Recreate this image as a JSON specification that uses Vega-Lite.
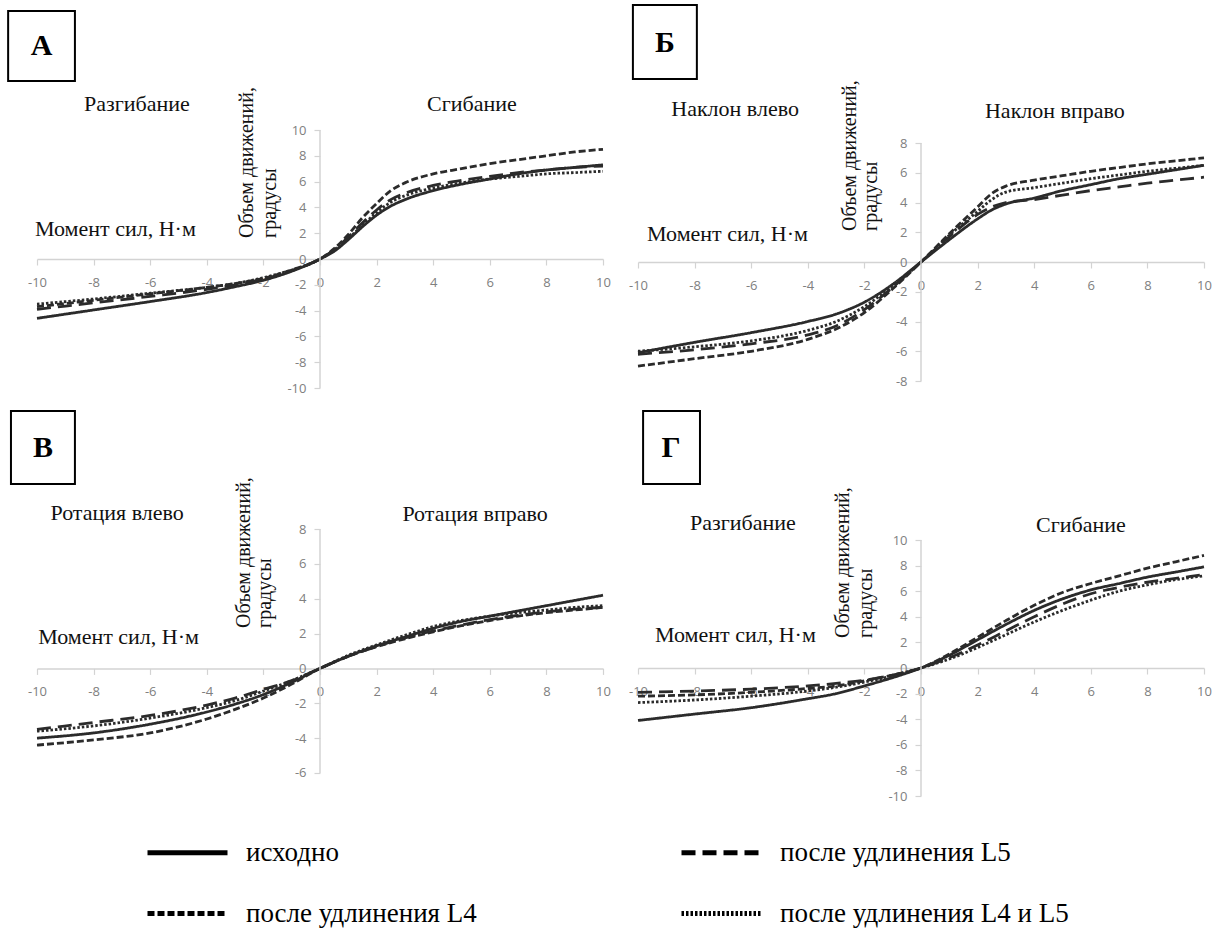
{
"$schema": "https://vega.github.io/schema/vega-lite/v6.json",
"background": "white",
"padding": {"left": 7, "top": 3, "right": 5, "bottom": 5},
"bounds": "flush",
"columns": 2,
"spacing": {"row": 141, "column": 35},
"config": {
  "view": {"stroke": null},
  "axis": {"labelFont": "Open Sans", "labelFontSize": 13, "labelColor": "#808080", "domainColor": "#d3d3d3", "tickColor": "#d3d3d3", "domainWidth": 1.5, "tickWidth": 1.2, "grid": false, "labelFlush": false, "labelOverlap": false, "labelBound": false, "tickSize": 6, "tickCount": 30},
  "text": {"font": "Liberation Serif", "fontSize": 22, "color": "#111111"}
},
"datasets": {
"curves": [
{"p":"A","s":"исходно","x":-10,"y":-4.6},{"p":"A","s":"исходно","x":-8,"y":-3.95},{"p":"A","s":"исходно","x":-6,"y":-3.3},{"p":"A","s":"исходно","x":-4,"y":-2.6},{"p":"A","s":"исходно","x":-3,"y":-2.15},{"p":"A","s":"исходно","x":-2,"y":-1.65},{"p":"A","s":"исходно","x":-1,"y":-0.95},{"p":"A","s":"исходно","x":0,"y":0},{"p":"A","s":"исходно","x":0.5,"y":0.6},{"p":"A","s":"исходно","x":1,"y":1.5},{"p":"A","s":"исходно","x":1.5,"y":2.5},{"p":"A","s":"исходно","x":2,"y":3.4},{"p":"A","s":"исходно","x":2.5,"y":4.1},{"p":"A","s":"исходно","x":3,"y":4.6},{"p":"A","s":"исходно","x":4,"y":5.3},{"p":"A","s":"исходно","x":5,"y":5.8},{"p":"A","s":"исходно","x":6,"y":6.2},{"p":"A","s":"исходно","x":7,"y":6.6},{"p":"A","s":"исходно","x":8,"y":6.9},{"p":"A","s":"исходно","x":9,"y":7.1},{"p":"A","s":"исходно","x":10,"y":7.3},
{"p":"A","s":"после удлинения L4","x":-10,"y":-3.7},{"p":"A","s":"после удлинения L4","x":-8,"y":-3.2},{"p":"A","s":"после удлинения L4","x":-6,"y":-2.7},{"p":"A","s":"после удлинения L4","x":-4,"y":-2.2},{"p":"A","s":"после удлинения L4","x":-3,"y":-1.9},{"p":"A","s":"после удлинения L4","x":-2,"y":-1.5},{"p":"A","s":"после удлинения L4","x":-1,"y":-0.85},{"p":"A","s":"после удлинения L4","x":0,"y":0},{"p":"A","s":"после удлинения L4","x":0.5,"y":0.8},{"p":"A","s":"после удлинения L4","x":1,"y":1.9},{"p":"A","s":"после удлинения L4","x":1.5,"y":3.2},{"p":"A","s":"после удлинения L4","x":2,"y":4.3},{"p":"A","s":"после удлинения L4","x":2.5,"y":5.3},{"p":"A","s":"после удлинения L4","x":3,"y":5.9},{"p":"A","s":"после удлинения L4","x":4,"y":6.6},{"p":"A","s":"после удлинения L4","x":5,"y":7.0},{"p":"A","s":"после удлинения L4","x":6,"y":7.4},{"p":"A","s":"после удлинения L4","x":7,"y":7.7},{"p":"A","s":"после удлинения L4","x":8,"y":8.0},{"p":"A","s":"после удлинения L4","x":9,"y":8.3},{"p":"A","s":"после удлинения L4","x":10,"y":8.5},
{"p":"A","s":"после удлинения L5","x":-10,"y":-3.9},{"p":"A","s":"после удлинения L5","x":-8,"y":-3.4},{"p":"A","s":"после удлинения L5","x":-6,"y":-2.9},{"p":"A","s":"после удлинения L5","x":-4,"y":-2.35},{"p":"A","s":"после удлинения L5","x":-3,"y":-2.0},{"p":"A","s":"после удлинения L5","x":-2,"y":-1.55},{"p":"A","s":"после удлинения L5","x":-1,"y":-0.9},{"p":"A","s":"после удлинения L5","x":0,"y":0},{"p":"A","s":"после удлинения L5","x":0.5,"y":0.7},{"p":"A","s":"после удлинения L5","x":1,"y":1.7},{"p":"A","s":"после удлинения L5","x":1.5,"y":2.8},{"p":"A","s":"после удлинения L5","x":2,"y":3.8},{"p":"A","s":"после удлинения L5","x":2.5,"y":4.6},{"p":"A","s":"после удлинения L5","x":3,"y":5.1},{"p":"A","s":"после удлинения L5","x":4,"y":5.7},{"p":"A","s":"после удлинения L5","x":5,"y":6.1},{"p":"A","s":"после удлинения L5","x":6,"y":6.4},{"p":"A","s":"после удлинения L5","x":7,"y":6.7},{"p":"A","s":"после удлинения L5","x":8,"y":6.9},{"p":"A","s":"после удлинения L5","x":9,"y":7.1},{"p":"A","s":"после удлинения L5","x":10,"y":7.2},
{"p":"A","s":"после удлинения L4 и L5","x":-10,"y":-3.5},{"p":"A","s":"после удлинения L4 и L5","x":-8,"y":-3.1},{"p":"A","s":"после удлинения L4 и L5","x":-6,"y":-2.65},{"p":"A","s":"после удлинения L4 и L5","x":-4,"y":-2.2},{"p":"A","s":"после удлинения L4 и L5","x":-3,"y":-1.9},{"p":"A","s":"после удлинения L4 и L5","x":-2,"y":-1.45},{"p":"A","s":"после удлинения L4 и L5","x":-1,"y":-0.85},{"p":"A","s":"после удлинения L4 и L5","x":0,"y":0},{"p":"A","s":"после удлинения L4 и L5","x":0.5,"y":0.7},{"p":"A","s":"после удлинения L4 и L5","x":1,"y":1.6},{"p":"A","s":"после удлинения L4 и L5","x":1.5,"y":2.6},{"p":"A","s":"после удлинения L4 и L5","x":2,"y":3.6},{"p":"A","s":"после удлинения L4 и L5","x":2.5,"y":4.4},{"p":"A","s":"после удлинения L4 и L5","x":3,"y":4.9},{"p":"A","s":"после удлинения L4 и L5","x":4,"y":5.5},{"p":"A","s":"после удлинения L4 и L5","x":5,"y":5.9},{"p":"A","s":"после удлинения L4 и L5","x":6,"y":6.2},{"p":"A","s":"после удлинения L4 и L5","x":7,"y":6.4},{"p":"A","s":"после удлинения L4 и L5","x":8,"y":6.6},{"p":"A","s":"после удлинения L4 и L5","x":9,"y":6.7},{"p":"A","s":"после удлинения L4 и L5","x":10,"y":6.8},

{"p":"B","s":"исходно","x":-10,"y":-6.1},{"p":"B","s":"исходно","x":-8,"y":-5.4},{"p":"B","s":"исходно","x":-6,"y":-4.75},{"p":"B","s":"исходно","x":-4,"y":-4.0},{"p":"B","s":"исходно","x":-3,"y":-3.5},{"p":"B","s":"исходно","x":-2,"y":-2.7},{"p":"B","s":"исходно","x":-1,"y":-1.5},{"p":"B","s":"исходно","x":0,"y":0},{"p":"B","s":"исходно","x":1,"y":1.5},{"p":"B","s":"исходно","x":2,"y":2.9},{"p":"B","s":"исходно","x":2.5,"y":3.5},{"p":"B","s":"исходно","x":3,"y":3.9},{"p":"B","s":"исходно","x":4,"y":4.3},{"p":"B","s":"исходно","x":5,"y":4.8},{"p":"B","s":"исходно","x":6,"y":5.2},{"p":"B","s":"исходно","x":7,"y":5.6},{"p":"B","s":"исходно","x":8,"y":5.9},{"p":"B","s":"исходно","x":9,"y":6.2},{"p":"B","s":"исходно","x":10,"y":6.5},
{"p":"B","s":"после удлинения L4","x":-10,"y":-7.0},{"p":"B","s":"после удлинения L4","x":-8,"y":-6.5},{"p":"B","s":"после удлинения L4","x":-6,"y":-6.0},{"p":"B","s":"после удлинения L4","x":-4,"y":-5.2},{"p":"B","s":"после удлинения L4","x":-3,"y":-4.5},{"p":"B","s":"после удлинения L4","x":-2,"y":-3.4},{"p":"B","s":"после удлинения L4","x":-1,"y":-1.8},{"p":"B","s":"после удлинения L4","x":0,"y":0},{"p":"B","s":"после удлинения L4","x":1,"y":1.9},{"p":"B","s":"после удлинения L4","x":2,"y":3.7},{"p":"B","s":"после удлинения L4","x":2.5,"y":4.6},{"p":"B","s":"после удлинения L4","x":3,"y":5.1},{"p":"B","s":"после удлинения L4","x":4,"y":5.5},{"p":"B","s":"после удлинения L4","x":5,"y":5.8},{"p":"B","s":"после удлинения L4","x":6,"y":6.1},{"p":"B","s":"после удлинения L4","x":7,"y":6.35},{"p":"B","s":"после удлинения L4","x":8,"y":6.6},{"p":"B","s":"после удлинения L4","x":9,"y":6.8},{"p":"B","s":"после удлинения L4","x":10,"y":7.0},
{"p":"B","s":"после удлинения L5","x":-10,"y":-6.2},{"p":"B","s":"после удлинения L5","x":-8,"y":-5.9},{"p":"B","s":"после удлинения L5","x":-6,"y":-5.5},{"p":"B","s":"после удлинения L5","x":-4,"y":-4.9},{"p":"B","s":"после удлинения L5","x":-3,"y":-4.3},{"p":"B","s":"после удлинения L5","x":-2,"y":-3.2},{"p":"B","s":"после удлинения L5","x":-1,"y":-1.7},{"p":"B","s":"после удлинения L5","x":0,"y":0},{"p":"B","s":"после удлинения L5","x":1,"y":1.7},{"p":"B","s":"после удлинения L5","x":2,"y":3.2},{"p":"B","s":"после удлинения L5","x":2.5,"y":3.7},{"p":"B","s":"после удлинения L5","x":3,"y":4.0},{"p":"B","s":"после удлинения L5","x":4,"y":4.2},{"p":"B","s":"после удлинения L5","x":5,"y":4.5},{"p":"B","s":"после удлинения L5","x":6,"y":4.8},{"p":"B","s":"после удлинения L5","x":7,"y":5.05},{"p":"B","s":"после удлинения L5","x":8,"y":5.3},{"p":"B","s":"после удлинения L5","x":9,"y":5.5},{"p":"B","s":"после удлинения L5","x":10,"y":5.7},
{"p":"B","s":"после удлинения L4 и L5","x":-10,"y":-6.0},{"p":"B","s":"после удлинения L4 и L5","x":-8,"y":-5.7},{"p":"B","s":"после удлинения L4 и L5","x":-6,"y":-5.3},{"p":"B","s":"после удлинения L4 и L5","x":-4,"y":-4.6},{"p":"B","s":"после удлинения L4 и L5","x":-3,"y":-4.0},{"p":"B","s":"после удлинения L4 и L5","x":-2,"y":-3.0},{"p":"B","s":"после удлинения L4 и L5","x":-1,"y":-1.6},{"p":"B","s":"после удлинения L4 и L5","x":0,"y":0},{"p":"B","s":"после удлинения L4 и L5","x":1,"y":1.8},{"p":"B","s":"после удлинения L4 и L5","x":2,"y":3.4},{"p":"B","s":"после удлинения L4 и L5","x":2.5,"y":4.2},{"p":"B","s":"после удлинения L4 и L5","x":3,"y":4.7},{"p":"B","s":"после удлинения L4 и L5","x":4,"y":5.0},{"p":"B","s":"после удлинения L4 и L5","x":5,"y":5.3},{"p":"B","s":"после удлинения L4 и L5","x":6,"y":5.6},{"p":"B","s":"после удлинения L4 и L5","x":7,"y":5.85},{"p":"B","s":"после удлинения L4 и L5","x":8,"y":6.1},{"p":"B","s":"после удлинения L4 и L5","x":9,"y":6.3},{"p":"B","s":"после удлинения L4 и L5","x":10,"y":6.5},

{"p":"V","s":"исходно","x":-10,"y":-4.0},{"p":"V","s":"исходно","x":-8,"y":-3.7},{"p":"V","s":"исходно","x":-6,"y":-3.2},{"p":"V","s":"исходно","x":-4,"y":-2.5},{"p":"V","s":"исходно","x":-3,"y":-2.05},{"p":"V","s":"исходно","x":-2,"y":-1.5},{"p":"V","s":"исходно","x":-1,"y":-0.8},{"p":"V","s":"исходно","x":0,"y":0},{"p":"V","s":"исходно","x":1,"y":0.7},{"p":"V","s":"исходно","x":2,"y":1.3},{"p":"V","s":"исходно","x":3,"y":1.8},{"p":"V","s":"исходно","x":4,"y":2.3},{"p":"V","s":"исходно","x":5,"y":2.7},{"p":"V","s":"исходно","x":6,"y":3.0},{"p":"V","s":"исходно","x":7,"y":3.3},{"p":"V","s":"исходно","x":8,"y":3.6},{"p":"V","s":"исходно","x":9,"y":3.9},{"p":"V","s":"исходно","x":10,"y":4.2},
{"p":"V","s":"после удлинения L4","x":-10,"y":-4.4},{"p":"V","s":"после удлинения L4","x":-8,"y":-4.1},{"p":"V","s":"после удлинения L4","x":-6,"y":-3.7},{"p":"V","s":"после удлинения L4","x":-4,"y":-2.9},{"p":"V","s":"после удлинения L4","x":-3,"y":-2.35},{"p":"V","s":"после удлинения L4","x":-2,"y":-1.7},{"p":"V","s":"после удлинения L4","x":-1,"y":-0.9},{"p":"V","s":"после удлинения L4","x":0,"y":0},{"p":"V","s":"после удлинения L4","x":1,"y":0.7},{"p":"V","s":"после удлинения L4","x":2,"y":1.25},{"p":"V","s":"после удлинения L4","x":3,"y":1.7},{"p":"V","s":"после удлинения L4","x":4,"y":2.1},{"p":"V","s":"после удлинения L4","x":5,"y":2.45},{"p":"V","s":"после удлинения L4","x":6,"y":2.75},{"p":"V","s":"после удлинения L4","x":7,"y":3.0},{"p":"V","s":"после удлинения L4","x":8,"y":3.2},{"p":"V","s":"после удлинения L4","x":9,"y":3.35},{"p":"V","s":"после удлинения L4","x":10,"y":3.5},
{"p":"V","s":"после удлинения L5","x":-10,"y":-3.5},{"p":"V","s":"после удлинения L5","x":-8,"y":-3.1},{"p":"V","s":"после удлинения L5","x":-6,"y":-2.7},{"p":"V","s":"после удлинения L5","x":-4,"y":-2.1},{"p":"V","s":"после удлинения L5","x":-3,"y":-1.7},{"p":"V","s":"после удлинения L5","x":-2,"y":-1.2},{"p":"V","s":"после удлинения L5","x":-1,"y":-0.7},{"p":"V","s":"после удлинения L5","x":0,"y":0},{"p":"V","s":"после удлинения L5","x":1,"y":0.7},{"p":"V","s":"после удлинения L5","x":2,"y":1.25},{"p":"V","s":"после удлинения L5","x":3,"y":1.75},{"p":"V","s":"после удлинения L5","x":4,"y":2.15},{"p":"V","s":"после удлинения L5","x":5,"y":2.5},{"p":"V","s":"после удлинения L5","x":6,"y":2.8},{"p":"V","s":"после удлинения L5","x":7,"y":3.05},{"p":"V","s":"после удлинения L5","x":8,"y":3.25},{"p":"V","s":"после удлинения L5","x":9,"y":3.4},{"p":"V","s":"после удлинения L5","x":10,"y":3.5},
{"p":"V","s":"после удлинения L4 и L5","x":-10,"y":-3.6},{"p":"V","s":"после удлинения L4 и L5","x":-8,"y":-3.3},{"p":"V","s":"после удлинения L4 и L5","x":-6,"y":-2.85},{"p":"V","s":"после удлинения L4 и L5","x":-4,"y":-2.25},{"p":"V","s":"после удлинения L4 и L5","x":-3,"y":-1.85},{"p":"V","s":"после удлинения L4 и L5","x":-2,"y":-1.3},{"p":"V","s":"после удлинения L4 и L5","x":-1,"y":-0.7},{"p":"V","s":"после удлинения L4 и L5","x":0,"y":0},{"p":"V","s":"после удлинения L4 и L5","x":1,"y":0.75},{"p":"V","s":"после удлинения L4 и L5","x":2,"y":1.35},{"p":"V","s":"после удлинения L4 и L5","x":3,"y":1.9},{"p":"V","s":"после удлинения L4 и L5","x":4,"y":2.4},{"p":"V","s":"после удлинения L4 и L5","x":5,"y":2.75},{"p":"V","s":"после удлинения L4 и L5","x":6,"y":3.0},{"p":"V","s":"после удлинения L4 и L5","x":7,"y":3.2},{"p":"V","s":"после удлинения L4 и L5","x":8,"y":3.35},{"p":"V","s":"после удлинения L4 и L5","x":9,"y":3.5},{"p":"V","s":"после удлинения L4 и L5","x":10,"y":3.6},

{"p":"G","s":"исходно","x":-10,"y":-4.1},{"p":"G","s":"исходно","x":-8,"y":-3.6},{"p":"G","s":"исходно","x":-6,"y":-3.1},{"p":"G","s":"исходно","x":-4,"y":-2.4},{"p":"G","s":"исходно","x":-3,"y":-2.0},{"p":"G","s":"исходно","x":-2,"y":-1.4},{"p":"G","s":"исходно","x":-1,"y":-0.75},{"p":"G","s":"исходно","x":0,"y":0},{"p":"G","s":"исходно","x":1,"y":1.0},{"p":"G","s":"исходно","x":2,"y":2.2},{"p":"G","s":"исходно","x":3,"y":3.4},{"p":"G","s":"исходно","x":4,"y":4.5},{"p":"G","s":"исходно","x":5,"y":5.4},{"p":"G","s":"исходно","x":6,"y":6.1},{"p":"G","s":"исходно","x":7,"y":6.6},{"p":"G","s":"исходно","x":8,"y":7.1},{"p":"G","s":"исходно","x":9,"y":7.5},{"p":"G","s":"исходно","x":10,"y":7.9},
{"p":"G","s":"после удлинения L4","x":-10,"y":-2.2},{"p":"G","s":"после удлинения L4","x":-8,"y":-2.1},{"p":"G","s":"после удлинения L4","x":-6,"y":-1.9},{"p":"G","s":"после удлинения L4","x":-4,"y":-1.6},{"p":"G","s":"после удлинения L4","x":-3,"y":-1.4},{"p":"G","s":"после удлинения L4","x":-2,"y":-1.0},{"p":"G","s":"после удлинения L4","x":-1,"y":-0.55},{"p":"G","s":"после удлинения L4","x":0,"y":0},{"p":"G","s":"после удлинения L4","x":1,"y":1.1},{"p":"G","s":"после удлинения L4","x":2,"y":2.4},{"p":"G","s":"после удлинения L4","x":3,"y":3.7},{"p":"G","s":"после удлинения L4","x":4,"y":4.9},{"p":"G","s":"после удлинения L4","x":5,"y":5.9},{"p":"G","s":"после удлинения L4","x":6,"y":6.6},{"p":"G","s":"после удлинения L4","x":7,"y":7.2},{"p":"G","s":"после удлинения L4","x":8,"y":7.8},{"p":"G","s":"после удлинения L4","x":9,"y":8.3},{"p":"G","s":"после удлинения L4","x":10,"y":8.8},
{"p":"G","s":"после удлинения L5","x":-10,"y":-1.9},{"p":"G","s":"после удлинения L5","x":-8,"y":-1.8},{"p":"G","s":"после удлинения L5","x":-6,"y":-1.65},{"p":"G","s":"после удлинения L5","x":-4,"y":-1.4},{"p":"G","s":"после удлинения L5","x":-3,"y":-1.2},{"p":"G","s":"после удлинения L5","x":-2,"y":-0.95},{"p":"G","s":"после удлинения L5","x":-1,"y":-0.55},{"p":"G","s":"после удлинения L5","x":0,"y":0},{"p":"G","s":"после удлинения L5","x":1,"y":0.8},{"p":"G","s":"после удлинения L5","x":2,"y":1.8},{"p":"G","s":"после удлинения L5","x":3,"y":2.9},{"p":"G","s":"после удлинения L5","x":4,"y":4.0},{"p":"G","s":"после удлинения L5","x":5,"y":5.0},{"p":"G","s":"после удлинения L5","x":6,"y":5.8},{"p":"G","s":"после удлинения L5","x":7,"y":6.3},{"p":"G","s":"после удлинения L5","x":8,"y":6.7},{"p":"G","s":"после удлинения L5","x":9,"y":7.0},{"p":"G","s":"после удлинения L5","x":10,"y":7.3},
{"p":"G","s":"после удлинения L4 и L5","x":-10,"y":-2.7},{"p":"G","s":"после удлинения L4 и L5","x":-8,"y":-2.5},{"p":"G","s":"после удлинения L4 и L5","x":-6,"y":-2.2},{"p":"G","s":"после удлинения L4 и L5","x":-4,"y":-1.8},{"p":"G","s":"после удлинения L4 и L5","x":-3,"y":-1.5},{"p":"G","s":"после удлинения L4 и L5","x":-2,"y":-1.1},{"p":"G","s":"после удлинения L4 и L5","x":-1,"y":-0.6},{"p":"G","s":"после удлинения L4 и L5","x":0,"y":0},{"p":"G","s":"после удлинения L4 и L5","x":1,"y":0.7},{"p":"G","s":"после удлинения L4 и L5","x":2,"y":1.6},{"p":"G","s":"после удлинения L4 и L5","x":3,"y":2.6},{"p":"G","s":"после удлинения L4 и L5","x":4,"y":3.6},{"p":"G","s":"после удлинения L4 и L5","x":5,"y":4.5},{"p":"G","s":"после удлинения L4 и L5","x":6,"y":5.3},{"p":"G","s":"после удлинения L4 и L5","x":7,"y":6.0},{"p":"G","s":"после удлинения L4 и L5","x":8,"y":6.5},{"p":"G","s":"после удлинения L4 и L5","x":9,"y":6.9},{"p":"G","s":"после удлинения L4 и L5","x":10,"y":7.2}
]
},
"concat": [
{
  "width": 566, "height": 258,
  "layer": [
    {"data": {"name": "curves"}, "transform": [{"filter": "datum.p === 'A'"}], "mark": {"type": "line", "interpolate": "monotone", "strokeWidth": 2.8, "color": "#2b2b2b"},
     "encoding": {
       "x": {"field": "x", "type": "quantitative", "scale": {"domain": [-10, 10], "nice": false}, "axis": {"orient": "bottom", "offset": -129, "values": [-10,-8,-6,-4,-2,0,2,4,6,8,10], "tickCount": 30, "labelExpr": "toString(datum.value)", "title": null, "labelPadding": 11, "labelOverlap": false}},
       "y": {"field": "y", "type": "quantitative", "scale": {"domain": [-10, 10], "nice": false}, "axis": {"orient": "left", "offset": -283, "domain": false, "values": [-10,-8,-6,-4,-2,0,2,4,6,8,10], "tickCount": 30, "labelExpr": "toString(datum.value)", "title": null, "labelPadding": 8, "labelOverlap": false}},
       "strokeDash": {"field": "s", "type": "nominal", "scale": {"domain": ["исходно", "после удлинения L4", "после удлинения L5", "после удлинения L4 и L5"], "range": [[1, 0], [7, 3], [14, 7], [2.5, 2]]},
         "legend": {"orient": "none", "legendX": 108, "legendY": 680, "columns": 2, "title": null, "symbolType": "stroke", "symbolSize": 6400, "symbolStrokeWidth": 5, "symbolStrokeColor": "black", "labelFont": "Liberation Serif", "labelFontSize": 27, "labelColor": "black", "labelOffset": 16, "columnPadding": 194, "rowPadding": 5, "labelLimit": 0}}
     }},
    {"data": {"values": [{}]}, "mark": {"type": "rule", "color": "#d3d3d3", "strokeWidth": 1.5}, "encoding": {"x": {"datum": 0}, "y": {"datum": -10}, "y2": {"datum": 10}}},
    {"data": {"values": [{}]}, "mark": {"type": "rect", "fill": "white", "stroke": "black", "strokeWidth": 2}, "encoding": {"x": {"datum": -11.02}, "x2": {"datum": -8.66}, "y": {"datum": 19.22}, "y2": {"datum": 13.8}}},
    {"data": {"values": [{}]}, "mark": {"type": "text", "fontSize": 30, "fontWeight": "bold", "color": "black", "baseline": "middle"}, "encoding": {"x": {"datum": -9.84}, "y": {"datum": 16.5}, "text": {"value": "А"}}},
    {"data": {"values": [{}]}, "mark": {"type": "text", "baseline": "middle"}, "encoding": {"x": {"datum": -6.47}, "y": {"datum": 12.02}, "text": {"value": "Разгибание"}}},
    {"data": {"values": [{}]}, "mark": {"type": "text", "baseline": "middle"}, "encoding": {"x": {"datum": 5.37}, "y": {"datum": 12.02}, "text": {"value": "Сгибание"}}},
    {"data": {"values": [{}]}, "mark": {"type": "text", "baseline": "middle", "align": "left"}, "encoding": {"x": {"datum": -10.07}, "y": {"datum": 2.33}, "text": {"value": "Момент сил, Н·м"}}},
    {"data": {"values": [{}]}, "mark": {"type": "text", "baseline": "middle", "align": "left", "angle": 270, "fontSize": 20}, "encoding": {"x": {"datum": -2.58}, "y": {"datum": 1.63}, "text": {"value": "Объем движений,"}}},
    {"data": {"values": [{}]}, "mark": {"type": "text", "baseline": "middle", "align": "left", "angle": 270, "fontSize": 20}, "encoding": {"x": {"datum": -1.77}, "y": {"datum": 1.63}, "text": {"value": "градусы"}}}
  ]
},
{
  "width": 566, "height": 258,
  "layer": [
    {"data": {"name": "curves"}, "transform": [{"filter": "datum.p === 'B'"}], "mark": {"type": "line", "interpolate": "monotone", "strokeWidth": 2.8, "color": "#2b2b2b"},
     "encoding": {
       "x": {"field": "x", "type": "quantitative", "scale": {"domain": [-10, 10], "nice": false}, "axis": {"orient": "bottom", "offset": -126, "values": [-10,-8,-6,-4,-2,0,2,4,6,8,10], "tickCount": 30, "labelExpr": "toString(datum.value)", "title": null, "labelPadding": 11, "labelOverlap": false}},
       "y": {"field": "y", "type": "quantitative", "scale": {"domain": [-8.47, 8.874], "nice": false}, "axis": {"orient": "left", "offset": -283, "domain": false, "values": [-8,-6,-4,-2,0,2,4,6,8], "tickCount": 30, "labelExpr": "toString(datum.value)", "title": null, "labelPadding": 8, "labelOverlap": false}},
       "strokeDash": {"field": "s", "type": "nominal", "scale": {"domain": ["исходно", "после удлинения L4", "после удлинения L5", "после удлинения L4 и L5"], "range": [[1, 0], [7, 3], [14, 7], [2.5, 2]]},
         "legend": {"orient": "none", "legendX": 108, "legendY": 680, "columns": 2, "title": null, "symbolType": "stroke", "symbolSize": 6400, "symbolStrokeWidth": 5, "symbolStrokeColor": "black", "labelFont": "Liberation Serif", "labelFontSize": 27, "labelColor": "black", "labelOffset": 16, "columnPadding": 194, "rowPadding": 5, "labelLimit": 0}}
     }},
    {"data": {"values": [{}]}, "mark": {"type": "rule", "color": "#d3d3d3", "strokeWidth": 1.5}, "encoding": {"x": {"datum": 0}, "y": {"datum": -8}, "y2": {"datum": 8}}},
    {"data": {"values": [{}]}, "mark": {"type": "rect", "fill": "white", "stroke": "black", "strokeWidth": 2}, "encoding": {"x": {"datum": -10.18}, "x2": {"datum": -7.92}, "y": {"datum": 17.28}, "y2": {"datum": 12.3}}},
    {"data": {"values": [{}]}, "mark": {"type": "text", "fontSize": 30, "fontWeight": "bold", "color": "black", "baseline": "middle"}, "encoding": {"x": {"datum": -9.05}, "y": {"datum": 14.72}, "text": {"value": "Б"}}},
    {"data": {"values": [{}]}, "mark": {"type": "text", "baseline": "middle"}, "encoding": {"x": {"datum": -6.57}, "y": {"datum": 10.29}, "text": {"value": "Наклон влево"}}},
    {"data": {"values": [{}]}, "mark": {"type": "text", "baseline": "middle"}, "encoding": {"x": {"datum": 4.73}, "y": {"datum": 10.15}, "text": {"value": "Наклон вправо"}}},
    {"data": {"values": [{}]}, "mark": {"type": "text", "baseline": "middle", "align": "left"}, "encoding": {"x": {"datum": -9.68}, "y": {"datum": 1.88}, "text": {"value": "Момент сил, Н·м"}}},
    {"data": {"values": [{}]}, "mark": {"type": "text", "baseline": "middle", "align": "left", "angle": 270, "fontSize": 20}, "encoding": {"x": {"datum": -2.51}, "y": {"datum": 2.08}, "text": {"value": "Объем движений,"}}},
    {"data": {"values": [{}]}, "mark": {"type": "text", "baseline": "middle", "align": "left", "angle": 270, "fontSize": 20}, "encoding": {"x": {"datum": -1.77}, "y": {"datum": 2.08}, "text": {"value": "градусы"}}}
  ]
},
{
  "width": 566, "height": 267,
  "layer": [
    {"data": {"name": "curves"}, "transform": [{"filter": "datum.p === 'V'"}], "mark": {"type": "line", "interpolate": "monotone", "strokeWidth": 2.8, "color": "#2b2b2b"},
     "encoding": {
       "x": {"field": "x", "type": "quantitative", "scale": {"domain": [-10, 10], "nice": false}, "axis": {"orient": "bottom", "offset": -127.6, "values": [-10,-8,-6,-4,-2,0,2,4,6,8,10], "tickCount": 30, "labelExpr": "toString(datum.value)", "title": null, "labelPadding": 11, "labelOverlap": false}},
       "y": {"field": "y", "type": "quantitative", "scale": {"domain": [-7.32, 8], "nice": false}, "axis": {"orient": "left", "offset": -283, "domain": false, "values": [-6,-4,-2,0,2,4,6,8], "tickCount": 30, "labelExpr": "toString(datum.value)", "title": null, "labelPadding": 8, "labelOverlap": false}},
       "strokeDash": {"field": "s", "type": "nominal", "scale": {"domain": ["исходно", "после удлинения L4", "после удлинения L5", "после удлинения L4 и L5"], "range": [[1, 0], [7, 3], [14, 7], [2.5, 2]]},
         "legend": {"orient": "none", "legendX": 108, "legendY": 680, "columns": 2, "title": null, "symbolType": "stroke", "symbolSize": 6400, "symbolStrokeWidth": 5, "symbolStrokeColor": "black", "labelFont": "Liberation Serif", "labelFontSize": 27, "labelColor": "black", "labelOffset": 16, "columnPadding": 194, "rowPadding": 5, "labelLimit": 0}}
     }},
    {"data": {"values": [{}]}, "mark": {"type": "rule", "color": "#d3d3d3", "strokeWidth": 1.5}, "encoding": {"x": {"datum": 0}, "y": {"datum": -6}, "y2": {"datum": 8}}},
    {"data": {"values": [{}]}, "mark": {"type": "rect", "fill": "white", "stroke": "black", "strokeWidth": 2}, "encoding": {"x": {"datum": -10.92}, "x2": {"datum": -8.66}, "y": {"datum": 14.77}, "y2": {"datum": 10.58}}},
    {"data": {"values": [{}]}, "mark": {"type": "text", "fontSize": 30, "fontWeight": "bold", "color": "black", "baseline": "middle"}, "encoding": {"x": {"datum": -9.79}, "y": {"datum": 12.65}, "text": {"value": "В"}}},
    {"data": {"values": [{}]}, "mark": {"type": "text", "baseline": "middle"}, "encoding": {"x": {"datum": -7.17}, "y": {"datum": 8.92}, "text": {"value": "Ротация влево"}}},
    {"data": {"values": [{}]}, "mark": {"type": "text", "baseline": "middle"}, "encoding": {"x": {"datum": 5.48}, "y": {"datum": 8.86}, "text": {"value": "Ротация вправо"}}},
    {"data": {"values": [{}]}, "mark": {"type": "text", "baseline": "middle", "align": "left"}, "encoding": {"x": {"datum": -9.96}, "y": {"datum": 1.8}, "text": {"value": "Момент сил, Н·м"}}},
    {"data": {"values": [{}]}, "mark": {"type": "text", "baseline": "middle", "align": "left", "angle": 270, "fontSize": 20}, "encoding": {"x": {"datum": -2.69}, "y": {"datum": 2.32}, "text": {"value": "Объем движений,"}}},
    {"data": {"values": [{}]}, "mark": {"type": "text", "baseline": "middle", "align": "left", "angle": 270, "fontSize": 20}, "encoding": {"x": {"datum": -1.94}, "y": {"datum": 2.32}, "text": {"value": "градусы"}}}
  ]
},
{
  "width": 566, "height": 267,
  "layer": [
    {"data": {"name": "curves"}, "transform": [{"filter": "datum.p === 'G'"}], "mark": {"type": "line", "interpolate": "monotone", "strokeWidth": 2.8, "color": "#2b2b2b"},
     "encoding": {
       "x": {"field": "x", "type": "quantitative", "scale": {"domain": [-10, 10], "nice": false}, "axis": {"orient": "bottom", "offset": -128, "values": [-10,-8,-6,-4,-2,0,2,4,6,8,10], "tickCount": 30, "labelExpr": "toString(datum.value)", "title": null, "labelPadding": 11, "labelOverlap": false}},
       "y": {"field": "y", "type": "quantitative", "scale": {"domain": [-10, 10.86], "nice": false}, "axis": {"orient": "left", "offset": -283, "domain": false, "values": [-10,-8,-6,-4,-2,0,2,4,6,8,10], "tickCount": 30, "labelExpr": "toString(datum.value)", "title": null, "labelPadding": 8, "labelOverlap": false}},
       "strokeDash": {"field": "s", "type": "nominal", "scale": {"domain": ["исходно", "после удлинения L4", "после удлинения L5", "после удлинения L4 и L5"], "range": [[1, 0], [7, 3], [14, 7], [2.5, 2]]},
         "legend": {"orient": "none", "legendX": 108, "legendY": 680, "columns": 2, "title": null, "symbolType": "stroke", "symbolSize": 6400, "symbolStrokeWidth": 5, "symbolStrokeColor": "black", "labelFont": "Liberation Serif", "labelFontSize": 27, "labelColor": "black", "labelOffset": 16, "columnPadding": 194, "rowPadding": 5, "labelLimit": 0}}
     }},
    {"data": {"values": [{}]}, "mark": {"type": "rule", "color": "#d3d3d3", "strokeWidth": 1.5}, "encoding": {"x": {"datum": 0}, "y": {"datum": -10}, "y2": {"datum": 10}}},
    {"data": {"values": [{}]}, "mark": {"type": "rect", "fill": "white", "stroke": "black", "strokeWidth": 2}, "encoding": {"x": {"datum": -9.82}, "x2": {"datum": -7.81}, "y": {"datum": 20.08}, "y2": {"datum": 14.38}}},
    {"data": {"values": [{}]}, "mark": {"type": "text", "fontSize": 30, "fontWeight": "bold", "color": "black", "baseline": "middle"}, "encoding": {"x": {"datum": -8.83}, "y": {"datum": 17.19}, "text": {"value": "Г"}}},
    {"data": {"values": [{}]}, "mark": {"type": "text", "baseline": "middle"}, "encoding": {"x": {"datum": -6.29}, "y": {"datum": 11.33}, "text": {"value": "Разгибание"}}},
    {"data": {"values": [{}]}, "mark": {"type": "text", "baseline": "middle"}, "encoding": {"x": {"datum": 5.65}, "y": {"datum": 11.17}, "text": {"value": "Сгибание"}}},
    {"data": {"values": [{}]}, "mark": {"type": "text", "baseline": "middle", "align": "left"}, "encoding": {"x": {"datum": -9.4}, "y": {"datum": 2.58}, "text": {"value": "Момент сил, Н·м"}}},
    {"data": {"values": [{}]}, "mark": {"type": "text", "baseline": "middle", "align": "left", "angle": 270, "fontSize": 20}, "encoding": {"x": {"datum": -2.76}, "y": {"datum": 2.34}, "text": {"value": "Объем движений,"}}},
    {"data": {"values": [{}]}, "mark": {"type": "text", "baseline": "middle", "align": "left", "angle": 270, "fontSize": 20}, "encoding": {"x": {"datum": -1.94}, "y": {"datum": 2.34}, "text": {"value": "градусы"}}}
  ]
}
]
}
